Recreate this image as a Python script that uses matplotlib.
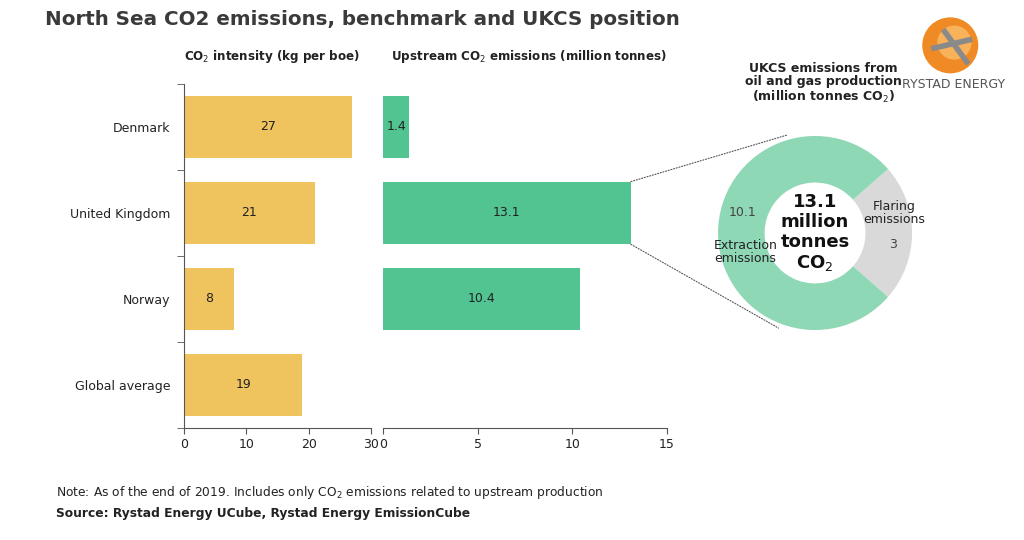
import matplotlib.pyplot as plt
from matplotlib.patches import ConnectionPatch, Circle
import numpy as np

# data
countries = ['Denmark', 'United Kingdom', 'Norway', 'Global average']
intensity = [27, 21, 8, 19]
upstream = [1.4, 13.1, 10.4]
donut_labels = ['Flaring\nemissions', 'Extraction\nemissions']
donut_vals = [3, 10.1]

yellow = '#EFC45E'
green = '#52C492'
green_light = '#8ED8B5'
grey = '#D9D9D9'
txt = '#222222'

plt.rcParams['font.family'] = 'DejaVu Sans'

fig = plt.figure(figsize=(10.24, 5.4), dpi=100)

fig.text(0.044, 0.963, 'North Sea CO2 emissions, benchmark and UKCS position',
         fontsize=14.3, fontweight='bold', color='#3a3a3a', va='center')

# left panel: intensity
ax1 = fig.add_axes([0.1797, 0.2075, 0.1826, 0.637])
y = np.arange(len(countries))
ax1.barh(y, intensity, height=0.73, color=yellow)
for i, v in enumerate(intensity):
    ax1.text(v / 2, i, str(v), ha='center', va='center', fontsize=9, color=txt)
ax1.set_ylim(3.5, -0.5)
ax1.set_xlim(0, 30)
ax1.set_xticks([0, 10, 20, 30])
ax1.set_yticks(y)
ax1.set_yticklabels(countries)
ax1.set_yticks(np.arange(-0.5, 4, 1), minor=True)
ax1.tick_params(axis='y', which='major', length=0, pad=10, labelsize=9, labelcolor=txt)
ax1.tick_params(axis='y', which='minor', length=5, color='#555555')
ax1.tick_params(axis='x', length=4, color='#555555', labelsize=9, labelcolor=txt)
for s in ['top', 'right']:
    ax1.spines[s].set_visible(False)
for s in ['left', 'bottom']:
    ax1.spines[s].set_color('#555555')
ax1.set_title('CO$_2$ intensity (kg per boe)', fontsize=8.6, fontweight='bold',
              color=txt, loc='left', pad=17)

# middle panel: upstream emissions
ax2 = fig.add_axes([0.374, 0.2075, 0.2773, 0.637])
y2 = np.arange(len(upstream))
ax2.barh(y2, upstream, height=0.73, color=green)
for i, v in enumerate(upstream):
    ax2.text(v / 2, i, str(v), ha='center', va='center', fontsize=9, color=txt)
ax2.set_ylim(3.5, -0.5)
ax2.set_xlim(0, 15)
ax2.set_xticks([0, 5, 10, 15])
ax2.set_yticks([])
ax2.tick_params(axis='x', length=4, color='#555555', labelsize=9, labelcolor=txt)
for s in ['top', 'right', 'left']:
    ax2.spines[s].set_visible(False)
ax2.spines['bottom'].set_color('#555555')
ax2.set_title('  Upstream CO$_2$ emissions (million tonnes)', fontsize=8.6,
              fontweight='bold', color=txt, loc='left', pad=17)

# donut
ax3 = fig.add_axes([0.7012, 0.3889, 0.1895, 0.3593])
start = donut_vals[0] / sum(donut_vals) * 360 / 2
ax3.pie(donut_vals, colors=[grey, green_light], startangle=start,
        counterclock=False, radius=1, wedgeprops=dict(width=0.48))
ax3.set_xlim(-1, 1)
ax3.set_ylim(-1, 1)
ax3.set_aspect('auto')
ax3.text(0, 0, '13.1\nmillion\ntonnes\nCO$_2$', ha='center', va='center',
         fontsize=13, fontweight='bold', color='#111111', linespacing=1.12)
ax3.text(-0.75, 0.21, '10.1', ha='center', va='center', fontsize=9, color='#444444')
ax3.text(-0.72, -0.2, donut_labels[1], ha='center', va='center', fontsize=9,
         color=txt, linespacing=1.0)
ax3.text(0.82, 0.21, donut_labels[0], ha='center', va='center', fontsize=9,
         color=txt, linespacing=1.0)
ax3.text(0.8, -0.12, str(donut_vals[0]), ha='center', va='center', fontsize=9,
         color='#444444')
fig.text(0.804, 0.846, 'UKCS emissions from\noil and gas production\n(million tonnes CO$_2$)',
         ha='center', va='center', fontsize=9, fontweight='bold', color=txt,
         linespacing=1.05)

# dotted connectors from UK bar to donut
for yy, ang in [(1 - 0.365, 106), (1 + 0.365, 249)]:
    a = np.deg2rad(ang)
    con = ConnectionPatch(xyA=(upstream[1], yy), coordsA=ax2.transData,
                          xyB=(1.05 * np.cos(a), 1.05 * np.sin(a)), coordsB=ax3.transData,
                          linestyle=(0, (1, 1.5)), color='#555555', lw=0.8)
    fig.add_artist(con)

# logo
lg = fig.add_axes([0.9, 0.862, 0.056, 0.108])
lg.add_patch(Circle((0, 0), 1, color='#F08A24'))
lg.add_patch(Circle((0.15, 0.1), 0.6, color='#F7B25A'))
lg.plot([-0.2, 0.6], [0.5, -0.6], color='#8a8a8a', lw=4)
lg.plot([-0.6, 0.7], [-0.1, 0.2], color='#8a8a8a', lw=4)
lg.set_xlim(-1.05, 1.05)
lg.set_ylim(-1.05, 1.05)
lg.set_aspect('equal')
lg.axis('off')
fig.text(0.931, 0.843, 'RYSTAD ENERGY', ha='center', va='center', fontsize=9,
         color='#555555')

fig.text(0.055, 0.088, 'Note: As of the end of 2019. Includes only CO$_2$ emissions related to upstream production',
         fontsize=8.8, color=txt, va='center')
fig.text(0.055, 0.05, 'Source: Rystad Energy UCube, Rystad Energy EmissionCube',
         fontsize=8.8, fontweight='bold', color=txt, va='center')

fig.savefig('out.png', dpi=100)
